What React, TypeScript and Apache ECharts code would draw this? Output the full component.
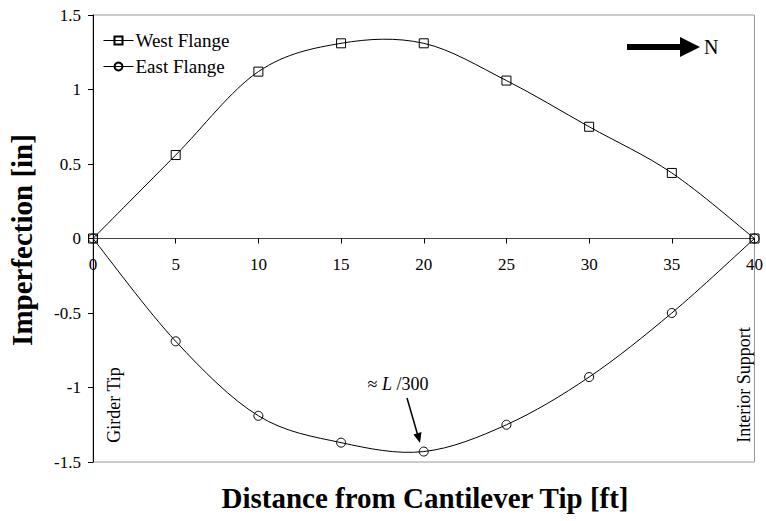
import React, { useEffect, useRef } from "react";
import * as echarts from "echarts";

const distances = [0, 5, 10, 15, 20, 25, 30, 35, 40];
const westFlange = [0, 0.56, 1.12, 1.31, 1.31, 1.06, 0.75, 0.44, 0];
const eastFlange = [0, -0.69, -1.19, -1.37, -1.43, -1.25, -0.93, -0.5, 0];
const seriesNames = ["West Flange", "East Flange"];

const FONT = "'Liberation Serif', 'Times New Roman', serif";

// Smooth (Catmull-Rom style) curve drawn through the data points in pixel space
const smoothRender = (params: any, api: any) => {
  const i = params.dataIndexInside;
  const n = params.dataInsideLength;
  if (i >= n - 1) return null;
  const pt = (j: number) => {
    const k = Math.max(0, Math.min(n - 1, j));
    return api.coord([api.value(0, k), api.value(1, k)]);
  };
  const p0 = pt(i - 1);
  const p1 = pt(i);
  const p2 = pt(i + 1);
  const p3 = pt(i + 2);
  const t = 1 / 6;
  return {
    type: "bezierCurve",
    shape: {
      x1: p1[0],
      y1: p1[1],
      cpx1: p1[0] + (p2[0] - p0[0]) * t,
      cpy1: p1[1] + (p2[1] - p0[1]) * t,
      cpx2: p2[0] - (p3[0] - p1[0]) * t,
      cpy2: p2[1] - (p3[1] - p1[1]) * t,
      x2: p2[0],
      y2: p2[1],
    },
    style: { stroke: "#000", fill: "none", lineWidth: 1 },
  };
};

export default function App() {
  const ref = useRef<HTMLDivElement>(null);
  useEffect(() => {
    if (!ref.current) return;
    const chart = echarts.init(ref.current, undefined, { renderer: "svg" });
    const mk = (ys: number[]) => distances.map((x, i) => [x, ys[i]]);
    const gridTop = 15;
    const gridBottom = 59;
    const gridH = 521 - gridTop - gridBottom;
    const markerSeries = (name: string, ys: number[], symbol: string) => ({
      name,
      type: "line",
      data: mk(ys),
      symbol,
      symbolSize: 9,
      color: "#000",
      lineStyle: { color: "#000", width: 0, opacity: 0 },
      itemStyle: { color: "transparent", borderColor: "#000", borderWidth: 1 },
      z: 3,
    });
    const curveSeries = (ys: number[]) => ({
      type: "custom",
      data: mk(ys),
      encode: { x: 0, y: 1 },
      renderItem: smoothRender,
      silent: true,
      z: 2,
    });
    chart.setOption({
      animation: false,
      backgroundColor: "#fff",
      grid: {
        left: 93,
        top: gridTop,
        right: 9,
        bottom: gridBottom,
        show: true,
        borderColor: "#999",
        borderWidth: 1,
      },
      legend: {
        orient: "vertical",
        left: 98,
        top: 26,
        itemWidth: 30,
        itemHeight: 10,
        itemGap: 7,
        textStyle: { fontFamily: FONT, fontSize: 19, color: "#000", padding: [0, 0, 0, -3] },
        lineStyle: { color: "#000", width: 1, opacity: 1 },
        data: seriesNames,
      },
      xAxis: {
        type: "value",
        min: 0,
        max: 40,
        interval: 5,
        offset: -gridH / 2,
        axisLine: { onZero: false, lineStyle: { color: "#444", width: 1 } },
        axisTick: { show: true, length: 5, lineStyle: { color: "#000" } },
        axisLabel: { fontFamily: FONT, fontSize: 17, color: "#000", margin: 17 },
        splitLine: { show: false },
      },
      yAxis: {
        type: "value",
        min: -1.5,
        max: 1.5,
        interval: 0.5,
        axisLine: { show: true, lineStyle: { color: "#000", width: 1 } },
        axisTick: { show: true, length: 5, lineStyle: { color: "#000" } },
        axisLabel: { fontFamily: FONT, fontSize: 17, color: "#000", margin: 12 },
        splitLine: { show: false },
      },
      series: [
        curveSeries(westFlange),
        curveSeries(eastFlange),
        markerSeries(seriesNames[0], westFlange, "rect"),
        markerSeries(seriesNames[1], eastFlange, "circle"),
      ],
      graphic: [
        {
          type: "text",
          x: 22,
          y: 240,
          rotation: Math.PI / 2,
          style: {
            text: "Imperfection [in]",
            font: `bold 29px ${FONT}`,
            fill: "#000",
            align: "center",
            verticalAlign: "middle",
          },
        },
        {
          type: "text",
          x: 425,
          y: 498,
          style: {
            text: "Distance from Cantilever Tip [ft]",
            font: `bold 29px ${FONT}`,
            fill: "#000",
            align: "center",
            verticalAlign: "middle",
          },
        },
        {
          type: "text",
          x: 114,
          y: 405,
          rotation: Math.PI / 2,
          style: {
            text: "Girder Tip",
            font: `18px ${FONT}`,
            fill: "#000",
            align: "center",
            verticalAlign: "middle",
          },
        },
        {
          type: "text",
          x: 744,
          y: 385,
          rotation: Math.PI / 2,
          style: {
            text: "Interior Support",
            font: `18px ${FONT}`,
            fill: "#000",
            align: "center",
            verticalAlign: "middle",
          },
        },
        {
          type: "text",
          x: 398,
          y: 384,
          style: {
            text: "≈ {i|L} /300",
            font: `18px ${FONT}`,
            fill: "#000",
            align: "center",
            verticalAlign: "middle",
            rich: {
              i: { fontStyle: "italic", fontFamily: FONT, fontSize: 18, fill: "#000" },
            },
          },
        },
        {
          type: "line",
          shape: { x1: 407, y1: 398, x2: 418, y2: 436 },
          style: { stroke: "#000", lineWidth: 1.5 },
        },
        {
          type: "polygon",
          shape: { points: [[420, 443], [421.5, 432], [413.5, 434.5]] },
          style: { fill: "#000" },
        },
        {
          type: "rect",
          shape: { x: 627, y: 44, width: 55, height: 6 },
          style: { fill: "#000" },
        },
        {
          type: "polygon",
          shape: { points: [[680, 37], [700, 47], [680, 57]] },
          style: { fill: "#000" },
        },
        {
          type: "text",
          x: 704,
          y: 47,
          style: {
            text: "N",
            font: `20px ${FONT}`,
            fill: "#000",
            align: "left",
            verticalAlign: "middle",
          },
        },
      ],
    });
    return () => chart.dispose();
  }, []);
  return (
    <div
      ref={ref}
      style={{ position: "fixed", left: 0, top: 0, width: 766, height: 521 }}
    />
  );
}
